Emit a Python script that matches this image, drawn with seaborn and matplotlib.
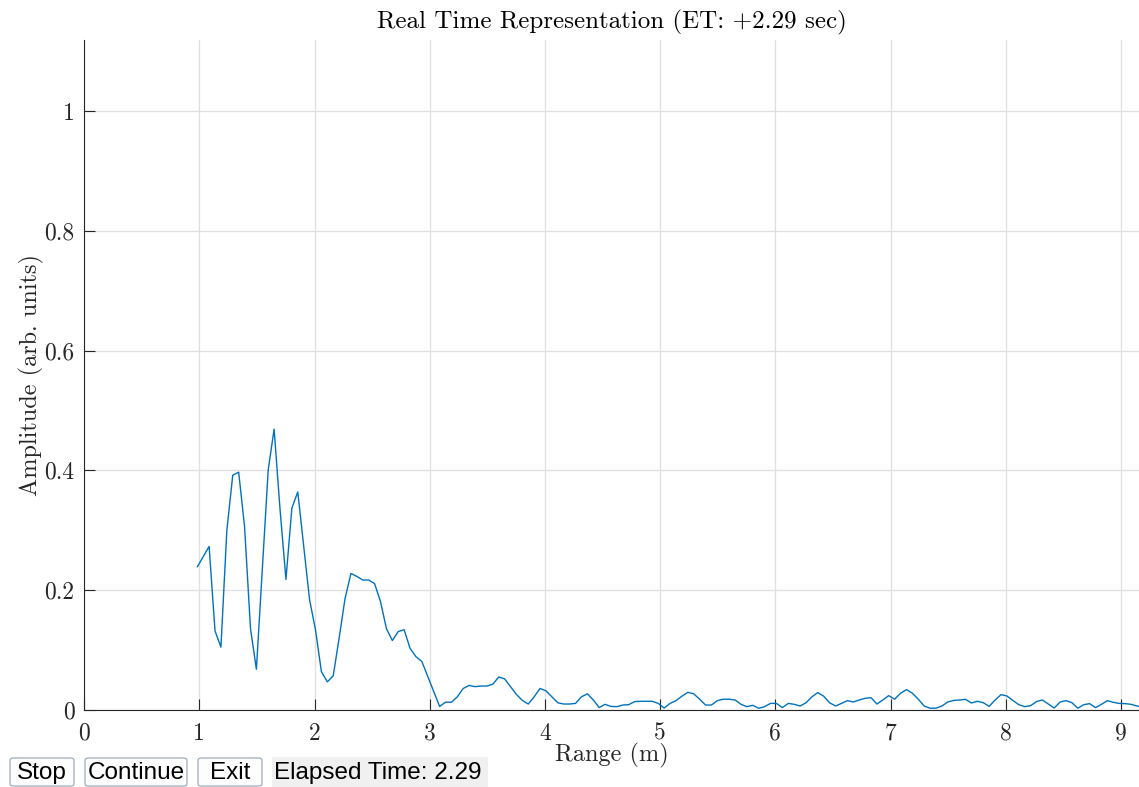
import numpy as np
import pandas as pd
import matplotlib
matplotlib.use("Agg")
import matplotlib.pyplot as plt
from matplotlib.patches import FancyBboxPatch, Rectangle
import seaborn as sns

# Range bins of the radar profile
range_start = 0.9826   # m
range_step = 0.0513    # m per bin

amplitude = [
    0.239, 0.256, 0.273, 0.132, 0.105, 0.300, 0.392, 0.397, 0.306, 0.136,
    0.068, 0.235, 0.401, 0.469, 0.335, 0.218, 0.337, 0.364, 0.274, 0.184,
    0.134, 0.064, 0.047, 0.057, 0.120, 0.186, 0.228, 0.223, 0.217, 0.217,
    0.211, 0.181, 0.136, 0.116, 0.131, 0.134, 0.103, 0.089, 0.081, 0.056,
    0.031, 0.006, 0.013, 0.013, 0.022, 0.036, 0.041, 0.039, 0.040, 0.040,
    0.043, 0.055, 0.052, 0.039, 0.026, 0.016, 0.010, 0.022, 0.036, 0.032,
    0.022, 0.012, 0.010, 0.010, 0.011, 0.022, 0.027, 0.017, 0.004, 0.0095,
    0.006, 0.0056, 0.0083, 0.0089, 0.014, 0.0145, 0.0145, 0.0145, 0.011, 0.0033,
    0.011, 0.0156, 0.023, 0.0295, 0.027, 0.018, 0.0083, 0.0083, 0.0156, 0.018,
    0.018, 0.0167, 0.0095, 0.0056, 0.0078, 0.0028, 0.0056, 0.011, 0.011, 0.004,
    0.011, 0.0095, 0.0067, 0.012, 0.022, 0.029, 0.023, 0.012, 0.0067, 0.011,
    0.0156, 0.0134, 0.0167, 0.0195, 0.0206, 0.010, 0.0167, 0.024, 0.018, 0.028,
    0.034, 0.028, 0.018, 0.0067, 0.003, 0.003, 0.0067, 0.0134, 0.016, 0.0167,
    0.0178, 0.0117, 0.0145, 0.0122, 0.0061, 0.0167, 0.0256, 0.0234, 0.016, 0.0089,
    0.0056, 0.0072, 0.014, 0.0167, 0.010, 0.0033, 0.0134, 0.0156, 0.0122, 0.003,
    0.0089, 0.0106, 0.0039, 0.0095, 0.0156, 0.0128, 0.011, 0.0106, 0.0095, 0.0067,
    0.005,
]

x_ticks = [0, 1, 2, 3, 4, 5, 6, 7, 8, 9]
x_tick_labels = ["0", "1", "2", "3", "4", "5", "6", "7", "8", "9"]
y_ticks = [0, 0.2, 0.4, 0.6, 0.8, 1.0]
y_tick_labels = ["0", "0.2", "0.4", "0.6", "0.8", "1"]

elapsed = 2.29
buttons = ["Stop", "Continue", "Exit"]

df = pd.DataFrame({
    "range": range_start + range_step * np.arange(len(amplitude)),
    "amp": amplitude,
})

sns.set_style("ticks")
plt.rcParams["font.family"] = ["cmr10", "DejaVu Serif"]
plt.rcParams["mathtext.fontset"] = "cm"
plt.rcParams["axes.unicode_minus"] = False
plt.rcParams["axes.formatter.use_mathtext"] = True

W, H = 1139, 787
fig = plt.figure(figsize=(W / 100, H / 100), dpi=100)


def fx(px):
    return px / W


def fy(py):
    return (H - py) / H


ax = fig.add_axes([fx(84.1), fy(710), 1.0 - fx(84.1), (710 - 40) / H])

sns.lineplot(data=df, x="range", y="amp", ax=ax, color="#0072BD", lw=1.0)

ax.set_xlim(0, (W - 84.1) / 115.2)
ax.set_ylim(0, 670 / 599)
ax.set_xticks(x_ticks)
ax.set_xticklabels(x_tick_labels)
ax.set_yticks(y_ticks)
ax.set_yticklabels(y_tick_labels)

axis_col = "#262626"
ax.grid(True, color="#dfdfdf", lw=0.9)
ax.set_axisbelow(True)
for side in ("top", "right"):
    ax.spines[side].set_visible(False)
for side in ("left", "bottom"):
    ax.spines[side].set_color(axis_col)
    ax.spines[side].set_linewidth(0.8)
ax.tick_params(axis="both", direction="in", length=8, width=0.8,
               color=axis_col, labelcolor=axis_col, labelsize=17)
ax.tick_params(axis="x", pad=9)
ax.tick_params(axis="y", pad=7)

ax.set_title(f"Real Time Representation (ET: +{elapsed:.2f} sec)",
             fontsize=18, color="#000000", pad=8)
ax.set_xlabel("Range (m)", fontsize=17.5, color=axis_col, labelpad=-1)
ax.set_ylabel("Amplitude (arb. units)", fontsize=17.5, color=axis_col, labelpad=0)

# UI controls along the bottom edge
ui_font = ["Liberation Sans", "DejaVu Sans"]
btn_boxes = [(10, 74), (85, 187), (198, 262)]
for label, (x0, x1) in zip(buttons, btn_boxes):
    box = FancyBboxPatch((fx(x0), fy(786)), fx(x1 - x0), (786 - 758) / H,
                         boxstyle="round,pad=0,rounding_size=0.003",
                         transform=fig.transFigure, facecolor="#fdfdfd",
                         edgecolor="#a9b4c2", lw=1.0)
    fig.add_artist(box)
    fig.text(fx((x0 + x1) / 2), fy(773), label, family=ui_font,
             fontsize=17.5, ha="center", va="center", color="#000000")

lab = Rectangle((fx(272), fy(787)), fx(488 - 272), (787 - 757) / H,
                transform=fig.transFigure, facecolor="#f0f0f0", edgecolor="none")
fig.add_artist(lab)
fig.text(fx(274), fy(773.5), f"Elapsed Time: {elapsed:.2f}", family=ui_font,
         fontsize=17.5, ha="left", va="center", color="#000000")

fig.savefig("out.png", dpi=100, facecolor="white")
